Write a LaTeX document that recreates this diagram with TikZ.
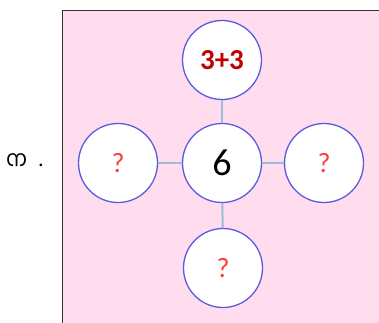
\documentclass[tikz,border=0pt]{standalone}
\usepackage{fontspec}
\setmainfont{Carlito}
\newfontfamily\mlfont[Script=Malayalam]{Hind Kochi}
\definecolor{pinkbg}{HTML}{FFDDEE}
\definecolor{ringblue}{HTML}{5A5AE0}
\definecolor{linkblue}{HTML}{9DBDD6}
\definecolor{darkred}{HTML}{C00000}
\definecolor{qred}{HTML}{FF3B3B}
\begin{document}
\begin{tikzpicture}[x=1pt,y=-1pt,
  ball/.style={circle,draw=ringblue,line width=1.3pt,fill=white,minimum size=79pt,inner sep=0pt},
  link/.style={draw=linkblue,line width=2pt},
  qmark/.style={text=qred,font=\fontsize{28}{28}\selectfont}]
\useasboundingbox (0,0) rectangle (379,322);
\fill[white] (0,0) rectangle (379,322);
\filldraw[fill=pinkbg,draw=black!80,line width=1pt] (62,10) rectangle (390,330);
\node[ball] (c) at (222,163) {\fontsize{38}{38}\selectfont 6};
\node[ball] (t) at (222,60) {\textcolor{darkred}{\fontsize{29}{29}\selectfont\bfseries 3+3}};
\node[ball] (l) at (118,163) {};
\node[ball] (r) at (324,163) {};
\node[ball] (b) at (223,268) {};
\node[qmark] at (l) {?};
\node[qmark] at (r) {?};
\node[qmark] at (b) {?};
\draw[link] (t) -- (c);
\draw[link] (l) -- (c);
\draw[link] (c) -- (r);
\draw[link] (c) -- (b);
\node[anchor=base west,inner sep=0pt] (lab) at (6,166) {\mlfont\fontsize{22}{22}\selectfont ന\hspace{12pt}.};
\end{tikzpicture}
\end{document}
